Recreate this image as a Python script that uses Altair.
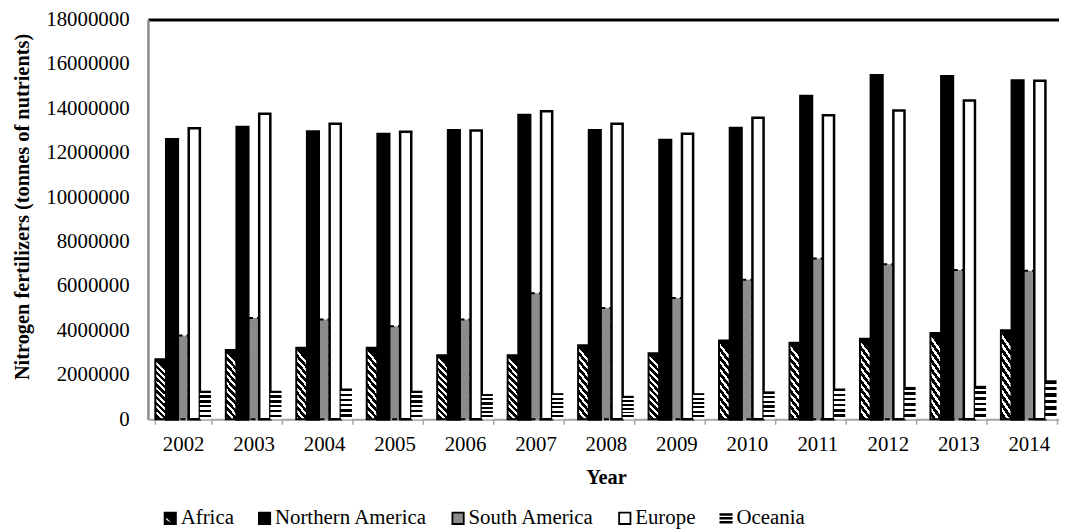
import altair as alt
import pandas as pd

years = ["2002", "2003", "2004", "2005", "2006", "2007", "2008",
         "2009", "2010", "2011", "2012", "2013", "2014"]
regions = ["Africa", "Northern America", "South America", "Europe", "Oceania"]

africa = [2700000, 3120000, 3220000, 3220000, 2880000, 2880000, 3340000,
          2970000, 3550000, 3450000, 3630000, 3890000, 4010000]
northern_america = [12600000, 13150000, 12940000, 12830000, 13000000, 13690000, 13000000,
                    12560000, 13100000, 14540000, 15480000, 15430000, 15240000]
south_america = [3770000, 4560000, 4490000, 4190000, 4490000, 5680000, 5010000,
                 5460000, 6280000, 7240000, 6980000, 6720000, 6690000]
europe = [13100000, 13750000, 13300000, 12940000, 13000000, 13870000, 13300000,
          12850000, 13570000, 13690000, 13900000, 14350000, 15240000]
oceania = [1290000, 1290000, 1390000, 1290000, 1140000, 1180000, 1060000,
           1180000, 1260000, 1390000, 1460000, 1510000, 1760000]

series = [africa, northern_america, south_america, europe, oceania]
rows = []
for r, vals in zip(regions, series):
    for yr, v in zip(years, vals):
        rows.append({"Year": yr, "Region": r, "Value": v})
df = pd.DataFrame(rows)


def stripes(n, dark=0.55):
    stops = []
    for i in range(n):
        a = i / n
        b = (i + dark) / n
        c = (i + 1) / n
        stops += [{"offset": a, "color": "black"}, {"offset": b, "color": "black"},
                  {"offset": b, "color": "white"}, {"offset": c, "color": "white"}]
    return stops


africa_grad = {"gradient": "linear", "x1": 0.18, "y1": 0, "x2": 0, "y2": 1,
               "stops": stripes(10, 0.55)}
oceania_grad = {"gradient": "linear", "x1": 0, "y1": 0, "x2": 0, "y2": 1,
                "stops": stripes(6, 0.5)}

# legend swatch shapes (unit-square SVG paths)
africa_sym = ("M-1,-1H1V1H-1Z M-0.85,-0.85V0.85H0.85V-0.85Z "
              "M-1,-1L-0.65,-1L1,0.65L1,1L0.65,1L-1,-0.65Z "
              "M-0.3,-1L1,-1L1,0.3Z M-1,0.3L-1,1L0.3,1Z")
oceania_sym = "M-1,-0.75H1V-0.62H-1Z M-1,-0.065H1V0.065H-1Z M-1,0.62H1V0.75H-1Z"
shapes = [africa_sym, "square", "square", "square", oceania_sym]
fills = ["black", "black", "#8c8c8c", "white", "black"]
strokes = ["black", "black", "black", "black", "black"]

FONT = "Liberation Serif"

legend = alt.Legend(
    title=None, orient="none", legendX=12, legendY=492, direction="horizontal",
    symbolSize=130, symbolStrokeColor="black", symbolStrokeWidth=1.8,
    labelFont=FONT, labelFontSize=21, labelColor="black", labelOffset=0,
    columnPadding=20, padding=0,
)

x_enc = alt.X(
    "Year:N", sort=years,
    scale=alt.Scale(range=[0, 923], paddingInner=0.21, paddingOuter=0.105),
    axis=alt.Axis(
        title="Year", titleFont=FONT, titleFontSize=20.5, titleFontWeight="bold",
        titleColor="black", titleY=58.5, titleBaseline="middle",
        labelFont=FONT, labelFontSize=21, labelColor="black", labelAngle=0,
        labelBaseline="middle", labelPadding=20,
        tickSize=5, tickColor="#a6a6a6", tickWidth=1.5, tickBand="extent",
        domainColor="#a6a6a6", domainWidth=2, grid=False,
    ),
)
xoff_enc = alt.XOffset("Region:N", scale=alt.Scale(domain=regions, paddingInner=0, paddingOuter=0))
y_enc = alt.Y(
    "Value:Q", scale=alt.Scale(domain=[0, 18000000], nice=False),
    axis=alt.Axis(
        title="Nitrogen fertilizers (tonnes of nutrients)", titleFont=FONT,
        titleFontSize=20.5, titleFontWeight="bold", titleColor="black",
        titleAngle=270, titleX=-126, titleY=188.5, titleAlign="center", titleBaseline="middle",
        values=list(range(0, 18000001, 2000000)), format="d",
        labelFont=FONT, labelFontSize=21, labelColor="black", labelPadding=19,
        ticks=False, domainColor="#8c8c8c", domainWidth=2.5,
        grid=True, gridColor="black", gridWidth=3,
        gridOpacity={"condition": {"test": "datum.value == 18000000", "value": 1}, "value": 0},
    ),
)

base = alt.Chart(df).encode(x=x_enc, xOffset=xoff_enc, y=y_enc)

pts = base.mark_point(filled=True, opacity=1, strokeWidth=1.8).encode(
    fill=alt.Fill("Region:N", scale=alt.Scale(domain=regions, range=fills), legend=legend),
    shape=alt.Shape("Region:N", scale=alt.Scale(domain=regions, range=shapes), legend=legend),
    stroke=alt.Stroke("Region:N", scale=alt.Scale(domain=regions, range=strokes), legend=legend),
    size=alt.value(0),
)


def region(name):
    return base.transform_filter(alt.datum.Region == name)


af = region("Africa").mark_bar(fill=africa_grad, stroke="black", strokeWidth=2)
na = region("Northern America").mark_bar(fill="black", stroke="black", strokeWidth=3)
sa = region("South America").mark_bar(fill="#8c8c8c", stroke="black", strokeWidth=2, strokeDash=[5, 4])
eu = region("Europe").mark_bar(fill="white", stroke="black", strokeWidth=2.5)
oc = region("Oceania").mark_bar(fill=oceania_grad, strokeWidth=0)

chart = alt.layer(pts, af, sa, na, eu, oc).properties(
    width=918, height=403,
    autosize=alt.AutoSizeParams(type="none"),
    padding={"left": 141, "top": 9.5, "right": 0, "bottom": 110.5},
    background="white",
).configure_view(stroke=None).configure(font=FONT)

chart.save("out.html", embed_options={"renderer": "svg", "actions": False})
